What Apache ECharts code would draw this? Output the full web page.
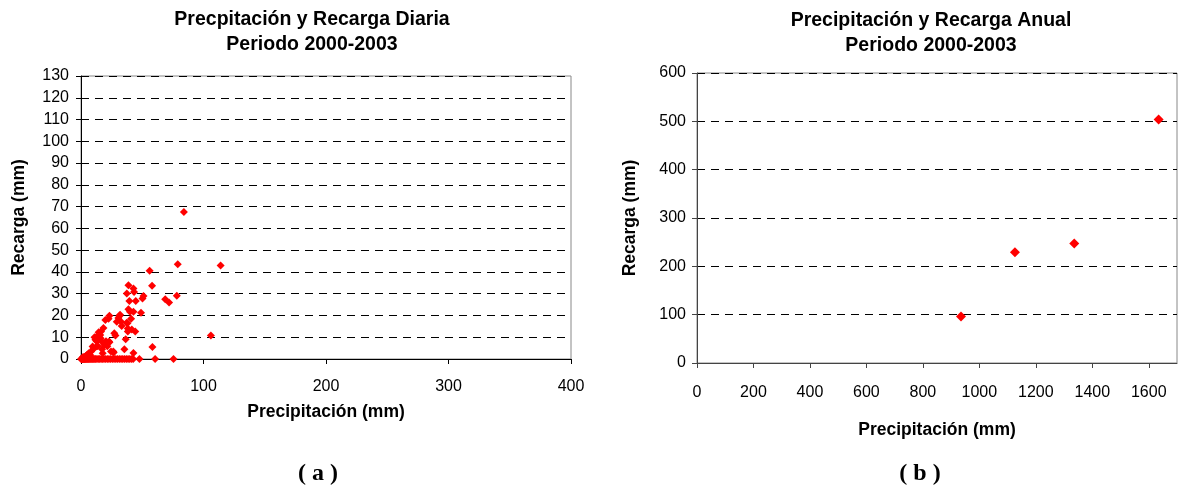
<!DOCTYPE html>
<html>
<head>
<meta charset="utf-8">
<script src="https://cdn.jsdelivr.net/npm/echarts@6/dist/echarts.min.js"></script>
<style>
  html, body { margin: 0; padding: 0; background: #fff; }
  #chart { width: 1178px; height: 488px; }
</style>
</head>
<body>
<div id="chart"></div>
<script>
// Daily precipitation (mm) and recharge (mm), 2000-2003
const dailyPrecip = [
  84, 79, 114, 56, 58, 38.7, 42.8, 43.3, 37.4, 51, 50.2, 68.7, 71.9, 78.2,
  39.5, 44.7, 38.7, 40, 42.8, 49, 31.9, 30.5, 29.2, 37.9, 33.2, 40.9, 23.2,
  31.4, 32.7, 19.9, 18.3, 37.3, 38.2, 44.3, 16.4, 14.5, 12.8, 20.4, 23.2,
  27.2, 28.1, 36.5, 24.5, 35.4, 42.8, 8.2, 6.3, 9.5, 13.6, 17.2, 17.7, 4.1,
  1.4, 58.3, 106, 14.4, 15.7, 11.8, 21.5, 12.9, 10.2, 26.4, 17, 22.9, 11,
  13, 16, 19, 7.5, 3, 2.5, 5, 26.7, 22.5, 38.2, 41.5,
  0.1, 0.3, 0.5, 0.8, 1.0, 1.3, 1.6, 2.0, 2.4, 2.8, 3.2, 3.7, 4.2, 4.8, 5.3,
  6.0, 6.6, 7.3, 8.0, 8.8, 9.5, 10.3, 11.2, 12.0, 13.0, 14.1, 15.2, 16.4,
  17.5, 18.8, 20.1, 21.5, 22.8, 24.2, 25.6, 27.0, 28.4, 29.8, 31.3, 32.7,
  34.1, 35.5, 37.0, 38.4, 39.8, 41.2, 42.6, 47.7, 60.5, 75.5
];
const dailyRecharge = [
  67.5, 43.5, 43, 40.5, 33.6, 33.9, 32.4, 30.8, 30.1, 28.9, 27.8, 27.5, 26, 29,
  26.6, 26.6, 22.8, 21.7, 21.7, 21.3, 20.3, 18.8, 17.1, 16.4, 15.2, 18.5, 19.9,
  19.8, 17.1, 17.9, 14.2, 16.7, 12.6, 12.6, 12.6, 8.8, 8.1, 8.1, 7.7,
  11.8, 10.8, 9.1, 3.4, 4.5, 2.7, 3.4, 2.6, 5.7, 6.0, 4.5, 2.6, 1.4,
  0.8, 5.5, 10.8, 12.3, 11, 8.8, 5.8, 5.8, 4.6, 3.5, 8, 8, 10,
  10.5, 9.5, 6.5, 1.8, 0.5, 1, 2, 3, 18.5, 14, 13.5,
  0, 0, 0, 0, 0, 0, 0, 0, 0, 0, 0, 0, 0, 0, 0,
  0, 0, 0, 0, 0, 0, 0, 0, 0, 0, 0, 0, 0,
  0, 0, 0, 0, 0, 0, 0, 0, 0, 0, 0, 0,
  0, 0, 0, 0, 0, 0, 0, 0, 0, 0
];

// Annual totals (mm)
const annualPrecip = [935, 1126, 1336, 1635];
const annualRecharge = [96, 229, 247, 504];

// Axis tick values
const dailyXTicks = [0, 100, 200, 300, 400];
const annualXTicks = [0, 200, 400, 600, 800, 1000, 1200, 1400, 1600];

const titles = [
  'Precpitación y Recarga Diaria\nPeriodo 2000-2003',
  'Precipitación y Recarga Anual\nPeriodo 2000-2003'
];
const xName = 'Precipitación (mm)';
const yName = 'Recarga (mm)';
const panelLabels = ['( a )', '( b )'];

const FONT = '"Liberation Sans", Arial, sans-serif';
const RED = '#ff0000';

const dailyPoints = dailyPrecip.map((p, i) => [p, dailyRecharge[i]]);
const annualPoints = annualPrecip.map((p, i) => [p, annualRecharge[i]]);

const plain = v => String(v);
const labelStyle = { fontFamily: FONT, fontSize: 16, color: '#000', formatter: plain };
const nameStyle = { fontFamily: FONT, fontSize: 17.5, fontWeight: 'bold', color: '#000' };
const titleStyle = { fontFamily: FONT, fontSize: 19.5, fontWeight: 'bold', color: '#000', lineHeight: 25 };
const gridLine = { show: true, lineStyle: { color: '#000', type: [8, 6], width: 1 } };
const panelFont = 'bold 24px "Liberation Serif", "Times New Roman", serif';

const chart = echarts.init(document.getElementById('chart'), null, { renderer: 'canvas' });

chart.setOption({
  backgroundColor: '#fff',
  animation: false,
  title: [
    { text: titles[0], left: 307, top: 2, textAlign: 'center', textStyle: titleStyle },
    { text: titles[1], left: 926, top: 3, textAlign: 'center', textStyle: titleStyle }
  ],
  graphic: [
    { type: 'text', x: 318, y: 474, style: { text: panelLabels[0], font: panelFont, fill: '#000', align: 'center', verticalAlign: 'middle' } },
    { type: 'text', x: 920, y: 474, style: { text: panelLabels[1], font: panelFont, fill: '#000', align: 'center', verticalAlign: 'middle' } }
  ],
  grid: [
    { left: 81, top: 76, width: 490, height: 283, show: true, borderColor: '#888', borderWidth: 1, backgroundColor: 'transparent' },
    { left: 697, top: 73, width: 480, height: 290, show: true, borderColor: '#888', borderWidth: 1, backgroundColor: 'transparent' }
  ],
  xAxis: [
    {
      gridIndex: 0, type: 'value', min: 0, max: 400, interval: 100,
      name: xName, nameLocation: 'middle', nameGap: 44, nameTextStyle: nameStyle,
      axisLine: { show: true, lineStyle: { color: '#000', width: 1 } },
      axisTick: { show: true, inside: false, length: 5, lineStyle: { color: '#000' }, customValues: dailyXTicks },
      axisLabel: { ...labelStyle, margin: 20, customValues: dailyXTicks },
      splitLine: { show: false }
    },
    {
      gridIndex: 1, type: 'value', min: 0, max: 1700, interval: 200,
      name: xName, nameLocation: 'middle', nameGap: 58, nameTextStyle: nameStyle,
      axisLine: { show: true, lineStyle: { color: '#444', width: 1 } },
      axisTick: { show: true, inside: false, length: 5, lineStyle: { color: '#444' }, customValues: annualXTicks },
      axisLabel: { ...labelStyle, margin: 22, customValues: annualXTicks },
      splitLine: { show: false }
    }
  ],
  yAxis: [
    {
      gridIndex: 0, type: 'value', min: 0, max: 130, interval: 10,
      name: yName, nameLocation: 'middle', nameGap: 53, nameTextStyle: nameStyle,
      axisLine: { show: true, lineStyle: { color: '#000', width: 1 } },
      axisTick: { show: true, inside: false, length: 5, lineStyle: { color: '#000' } },
      axisLabel: { ...labelStyle, margin: 12 },
      splitLine: gridLine
    },
    {
      gridIndex: 1, type: 'value', min: 0, max: 600, interval: 100,
      name: yName, nameLocation: 'middle', nameGap: 58, nameTextStyle: nameStyle,
      axisLine: { show: true, lineStyle: { color: '#444', width: 1 } },
      axisTick: { show: true, inside: false, length: 5, lineStyle: { color: '#444' } },
      axisLabel: { ...labelStyle, margin: 11 },
      splitLine: gridLine
    }
  ],
  series: [
    {
      type: 'scatter', xAxisIndex: 0, yAxisIndex: 0, data: dailyPoints,
      symbol: 'diamond', symbolSize: 8, itemStyle: { color: RED, opacity: 1 }
    },
    {
      type: 'scatter', xAxisIndex: 1, yAxisIndex: 1, data: annualPoints,
      symbol: 'diamond', symbolSize: 10, itemStyle: { color: RED, opacity: 1 }
    }
  ]
});
</script>
</body>
</html>
